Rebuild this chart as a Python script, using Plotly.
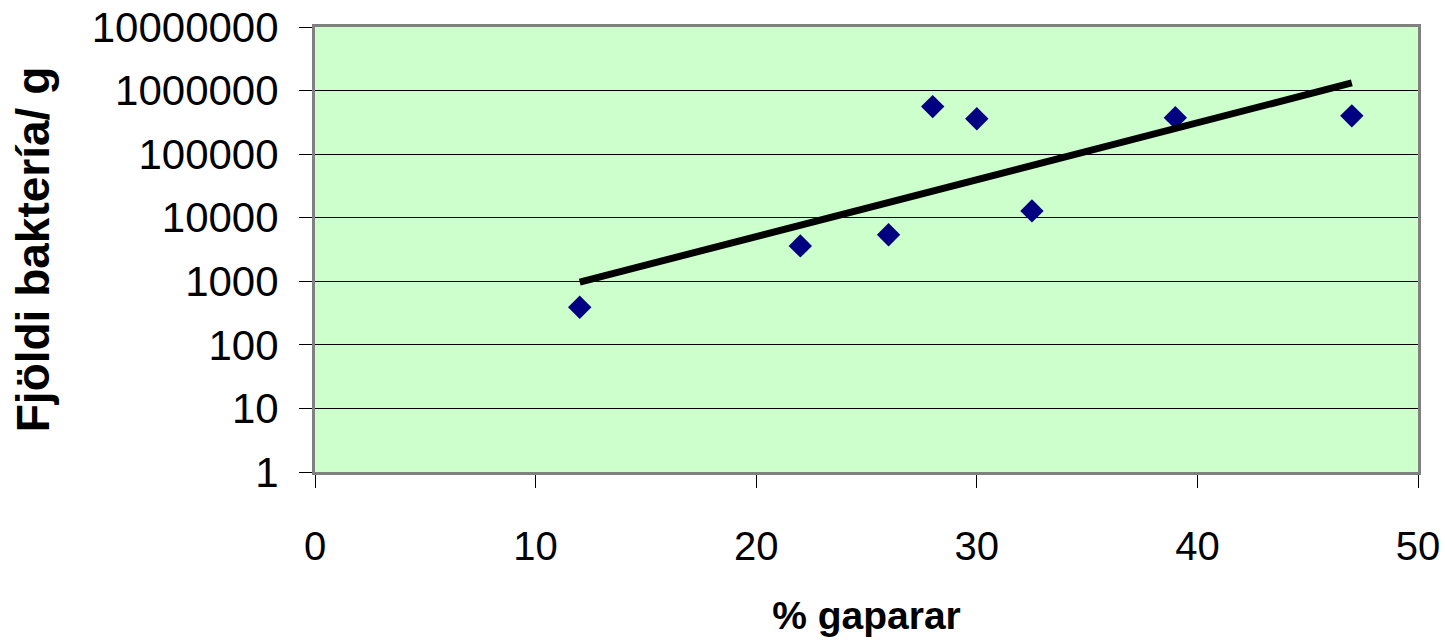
import plotly.graph_objects as go

# data
gaparar_pct = [12, 22, 26, 28, 30, 32.5, 39, 47]
bakteriur = [390, 3600, 5400, 560000, 360000, 12800, 375000, 400000]

# exponential trend line end points
trend_x = [12, 47]
trend_y = [970, 1320000]

y_ticks = [1, 10, 100, 1000, 10000, 100000, 1000000, 10000000]
y_labels = [str(v) for v in y_ticks]
x_ticks = [0, 10, 20, 30, 40, 50]

FONT = "Liberation Sans, Arial, sans-serif"

fig = go.Figure()
fig.add_trace(go.Scatter(
    x=gaparar_pct, y=bakteriur, mode="markers",
    marker=dict(symbol="diamond", size=18, color="#000080", line=dict(width=0)),
    showlegend=False,
))
fig.add_trace(go.Scatter(
    x=trend_x, y=trend_y, mode="lines",
    line=dict(color="black", width=7),
    showlegend=False,
))

fig.update_layout(
    width=1445, height=644,
    margin=dict(l=315, r=27, t=27, b=172),
    paper_bgcolor="white",
    plot_bgcolor="#CCFFCC",
    font=dict(family=FONT, color="black"),
)
fig.update_xaxes(
    range=[0, 50], tickvals=x_ticks, automargin=False,
    ticks="outside", ticklen=13, tickcolor="black", tickwidth=1,
    tickfont=dict(size=40), ticklabelstandoff=24, ticklabeloverflow="allow",
    showgrid=False, zeroline=False,
    showline=True, linecolor="#808080", linewidth=3, mirror=True,
    title=dict(text="<b>% gaparar</b>", font=dict(size=39), standoff=35),
)
fig.update_yaxes(
    type="log", range=[0, 7], tickvals=y_ticks, ticktext=y_labels, automargin=False,
    ticks="outside", ticklen=13, tickcolor="black", tickwidth=1,
    tickfont=dict(size=42), ticklabelstandoff=12, ticklabeloverflow="allow",
    showgrid=True, gridcolor="black", gridwidth=1, zeroline=False,
    showline=True, linecolor="#808080", linewidth=3, mirror=True,
    title=dict(text="<b>Fjöldi baktería/ g</b>", font=dict(size=46), standoff=28),
)

# drop the page's default body margin so the figure fills the window
fig.write_html("out.html", config={"displayModeBar": False},
               post_script="document.body.style.margin='0';")
